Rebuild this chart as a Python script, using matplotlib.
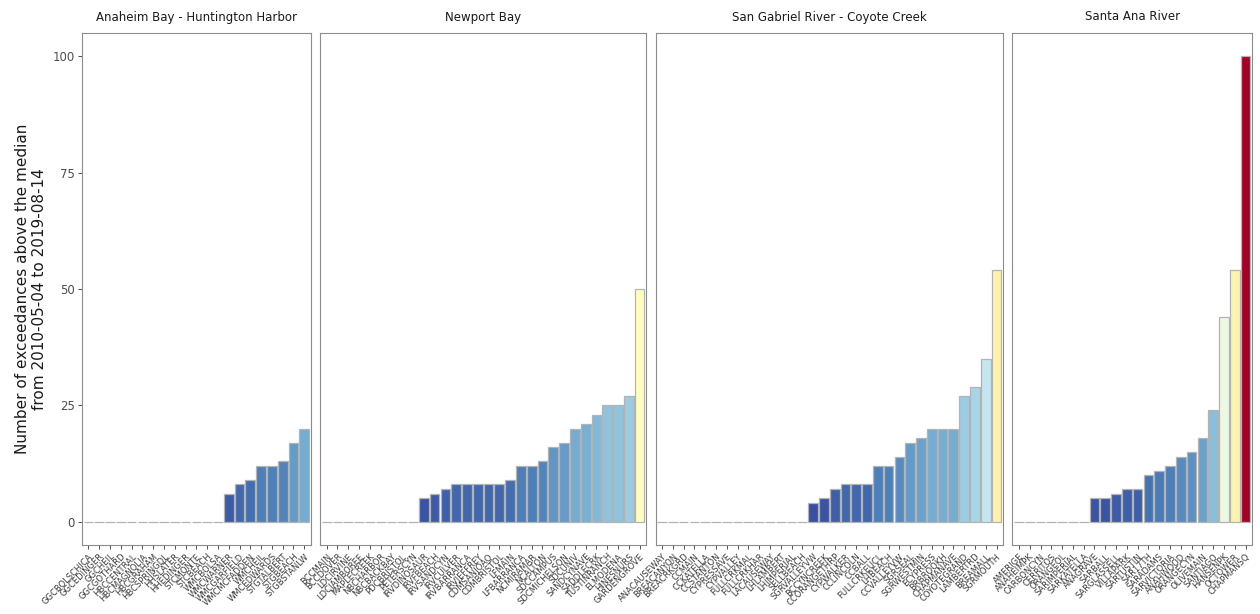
import numpy as np
import matplotlib
matplotlib.use("Agg")
import matplotlib.pyplot as plt
from matplotlib.colors import Normalize

# exceedance counts per station, grouped by watershed (sorted ascending)
watersheds = ["Anaheim Bay - Huntington Harbor", "Newport Bay",
              "San Gabriel River - Coyote Creek", "Santa Ana River"]

ahh_sites = ["GGCBOLSCHICA", "GGCEDINGER", "GGCHEIL", "GGCGOTHARD", "HBCCENTRAL",
             "HBCMAGNOLIA", "HBCGRAHAM", "HBCSPRINGDL", "HHSLATER", "HHEDINGER",
             "STCMONTE", "STCBEACH", "WMCBOLSA", "WMCWARNER", "WMCGARFIELD",
             "WMCMCFADDEN", "WMCHEIL", "WMCEDWARDS", "STGTALBERT", "STGBEACH",
             "STGBSTANLW"]
ahh_counts = [0, 0, 0, 0, 0, 0, 0, 0, 0, 0, 0, 0, 0,
              6, 8, 9, 12, 12, 13, 17, 20]

nb_sites = ["BCCMAIN", "BCCDOVER", "LDCIRVINE", "LDCJAMBOREE", "MAPLECREEK",
            "NBCHARBOR", "NBCBACKBAY", "PDCBRISTOL", "PETERSCYN", "IRVDINOSAUR",
            "IRVFBEACH", "IRVSANDCYN", "IRVCULVER", "IRVBARRANCA", "IRVJEFFREY",
            "CDMSANJOAQ", "CDMBRISTOL", "LFMAIN", "LFBARRANCA", "NCMIRAMAR",
            "NCALTON", "SDCCAMPUS", "SDCMICHELSON", "SDCUNIV", "SANDCYNAVE",
            "SADDLECRK", "TUSTINRANCH", "ELMODENA", "HINESNURS", "GARDENGROVE"]
nb_counts = [0, 0, 0, 0, 0, 0, 0, 0, 0,
             5, 6, 7, 8, 8, 8, 8, 8, 9, 12, 12, 13, 16, 17, 20, 21, 23, 25, 25,
             27, 50]

sgr_sites = ["ANACAUSEWAY", "BREACANYON", "BREACRKGRD", "CCMAIN", "CCKATELLA",
             "CCSTANTON", "CYPRESSAVE", "CYPVALLEY", "FULLCRKMAL", "FULLCRKHAR",
             "LACAUSEWAY", "LHLAMBERT", "LHIMPERIAL", "SELLBEACH", "SGRVALLEYVW",
             "BCCYNCREEK", "CCORANGETHRP", "CYPWALKER", "CCLINCOLN", "CCBALL",
             "FULLCRKEUCL", "LHBEACH", "CCVALLEYVW", "SGRSEAL", "SGRWESTMIN",
             "ECYPRESS", "BRBROOKH", "CHAPMANAVE", "COYOTEGRAND", "LAMBERTRD",
             "BREAMALL", "SGRMOUTH"]
sgr_counts = [0, 0, 0, 0, 0, 0, 0, 0, 0, 0, 0, 0, 0, 0,
              4, 5, 7, 8, 8, 8, 12, 12, 14, 17, 18, 20, 20, 20, 27, 29, 35, 54]

sar_sites = ["AMERIGE", "ANAHEIMPK", "CARBONCYN", "CERRITOS", "ORANGEOL",
             "SARIMPERIAL", "SARKATELLA", "ANAGRAVE", "SARBALL", "SARGLASSELL",
             "VILLAPARK", "SARTUSTIN", "SAR17TH", "SARADAMS", "SARVICTORIA",
             "ANAHWOOD", "ORANGECYN", "OLIVEMAIN", "SANTIAGO", "HANSENPK",
             "OCTOWER", "CHAPMANSQ"]
sar_counts = [0, 0, 0, 0, 0, 0, 0,
              5, 5, 6, 7, 7, 10, 11, 12, 14, 15, 18, 24, 44, 54, 100]

panel_sites = [ahh_sites, nb_sites, sgr_sites, sar_sites]
panel_counts = [ahh_counts, nb_counts, sgr_counts, sar_counts]

y_ticks = [0, 25, 50, 75, 100]
y_title = "Number of exceedances above the median\nfrom 2010-05-04 to 2019-08-14"

fig = plt.figure(figsize=(12.6, 6.14), dpi=100)
W, H = 1260, 614
left_px, right_px, top_px, bottom_px = 82, 1252, 33, 545
gap_px = 9.5

# panel widths follow the number of stations (free x spacing)
units = [len(s) - 1 + 1.2 for s in panel_sites]
unit_px = (right_px - left_px - gap_px * (len(units) - 1)) / sum(units)

cmap = plt.get_cmap("RdYlBu_r")
norm = Normalize(vmin=0, vmax=max(max(c) for c in panel_counts))

x0 = left_px
for i, (name, sites, counts) in enumerate(zip(watersheds, panel_sites, panel_counts)):
    w = units[i] * unit_px
    ax = fig.add_axes([x0 / W, (H - bottom_px) / H, w / W, (bottom_px - top_px) / H])
    x0 += w + gap_px

    xs = np.arange(len(sites))
    vals = np.array(counts, dtype=float)
    ax.bar(xs, vals, width=0.9, color=cmap(norm(vals)),
           edgecolor="#b3b3b3", linewidth=0.9)

    ax.set_xlim(-0.6, len(sites) - 0.4)
    ax.set_ylim(-5, 105)
    ax.set_xticks(xs)
    ax.set_xticklabels(sites, rotation=45, ha="right", rotation_mode="anchor",
                       fontsize=6, color="#3a3a3a")
    ax.tick_params(axis="x", length=3, width=0.6, color="#333333", pad=2)

    ax.set_yticks(y_ticks)
    if i == 0:
        ax.set_yticklabels([str(t) for t in y_ticks], fontsize=8.5, color="#4d4d4d")
        ax.tick_params(axis="y", length=3, width=0.6, color="#333333", pad=2)
        ax.set_ylabel(y_title, fontsize=11, color="#1a1a1a", labelpad=4)
    else:
        ax.tick_params(axis="y", left=False, labelleft=False)

    for sp in ax.spines.values():
        sp.set_color("#8c8c8c")
        sp.set_linewidth(0.8)

    ax.set_title(name, fontsize=8.5, color="#1a1a1a", pad=9)

fig.savefig("out.png", dpi=100, facecolor="white")
